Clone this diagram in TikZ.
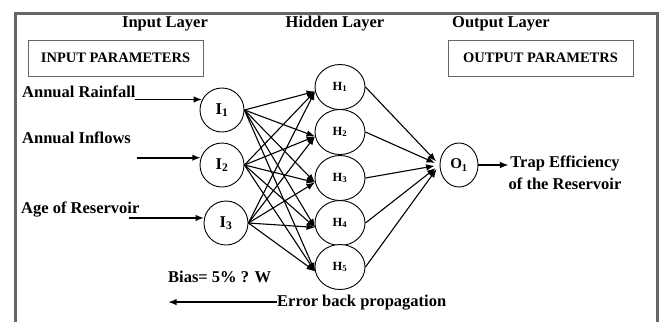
\documentclass[tikz,border=0pt]{standalone}
\usepackage{fontspec}
\setmainfont{Liberation Serif}
\usetikzlibrary{positioning,arrows,arrows.meta,shapes,calc}

\begin{document}
\begin{tikzpicture}[x=1pt, y=-1pt, >={Latex[length=8.5pt,width=6.5pt]},
    every node/.style={font=\fontsize{16.5}{22}\selectfont\bfseries},
    lbl/.style={inner sep=0pt},
    inode/.style={draw, circle, line width=0.9pt, minimum size=44pt, inner sep=0pt, fill=white},
    hnode/.style={draw, ellipse, line width=0.9pt, minimum width=50pt, minimum height=45pt,
                  inner sep=0pt, fill=white, font=\fontsize{12.5}{14}\selectfont\bfseries},
    parbox/.style={draw=black!60, line width=0.6pt, minimum width=175pt, minimum height=36pt,
                   font=\fontsize{14.5}{16}\selectfont\bfseries},
    feed/.style={->, line width=1.8pt},
    wire/.style={->, line width=1.1pt}]
%
    \useasboundingbox (0,0) rectangle (661,322);
    \draw[black!60, line width=3pt] (15,322) -- (15,13) -- (657,13) -- (657,322);
%
    \node[lbl, anchor=base] (tin)  at (165,27) {Input Layer};
    \node[lbl, anchor=base] (thid) at (335,27) {Hidden Layer};
    \node[lbl, anchor=base] (tout) at (501,27) {Output Layer};
    \node[parbox] (inpar) at (115.5,58) {INPUT PARAMETERS};
    \node[parbox, minimum width=185pt] (outpar) at (540.5,58) {OUTPUT PARAMETRS};
%
    \node[inode] (I1) at (222,110) {I\textsubscript{1}};
    \node[inode] (I2) at (222,165) {I\textsubscript{2}};
    \node[inode] (I3) at (226,223) {I\textsubscript{3}};
    \foreach \n/\y in {1/87,2/132,3/178,4/223,5/267}
      \node[hnode] (H\n) at (340,\y) {H\textsubscript{\n}};
    \node[inode, ellipse, minimum size=0pt, minimum width=38pt, minimum height=44pt,
          font=\fontsize{15}{17}\selectfont\bfseries] (O1) at (459,165) {O\textsubscript{1}};
%
    \node[lbl, anchor=base west] (rain)   at (22,97)  {Annual Rainfall};
    \node[lbl, anchor=base west] (inflow) at (22,143) {Annual Inflows};
    \node[lbl, anchor=base west] (age)    at (21,213) {Age of Reservoir};
    \path (I1.152) ++(-67,0) node[coordinate] (inA) {};
    \path (I2.161) ++(-64,0) node[coordinate] (inB) {};
    \path (I3.167) ++(-75,0) node[coordinate] (inC) {};
    \draw[feed] (inA) -- (I1.152);
    \draw[feed] (inB) -- (I2.161);
    \draw[feed] (inC) -- (I3.167);
%
    \foreach \i in {1,2,3}
      \foreach \h in {1,...,5}
        \draw[wire] (I\i.east) -- (H\h.190);
    \foreach \h in {1,...,5}
      \draw[wire, shorten >=5pt] (H\h.east) -- (O1.west);
%
    \node[lbl, align=center] (trap) at (565,172.5) {Trap Efficiency\\of the Reservoir};
    \draw[feed, line width=1.2pt] (O1.east) -- (O1.east -| trap.west);
%
    \node[lbl, anchor=base west] (bias) at (168,282) {Bias= 5\% ? W};
    \node[lbl, anchor=base west] (err)  at (277,306) {Error back propagation};
    \node[coordinate] (errEnd) at (168,302) {};
    \draw[feed] (err.west) -- (err.west -| errEnd);
\end{tikzpicture}
\end{document}
